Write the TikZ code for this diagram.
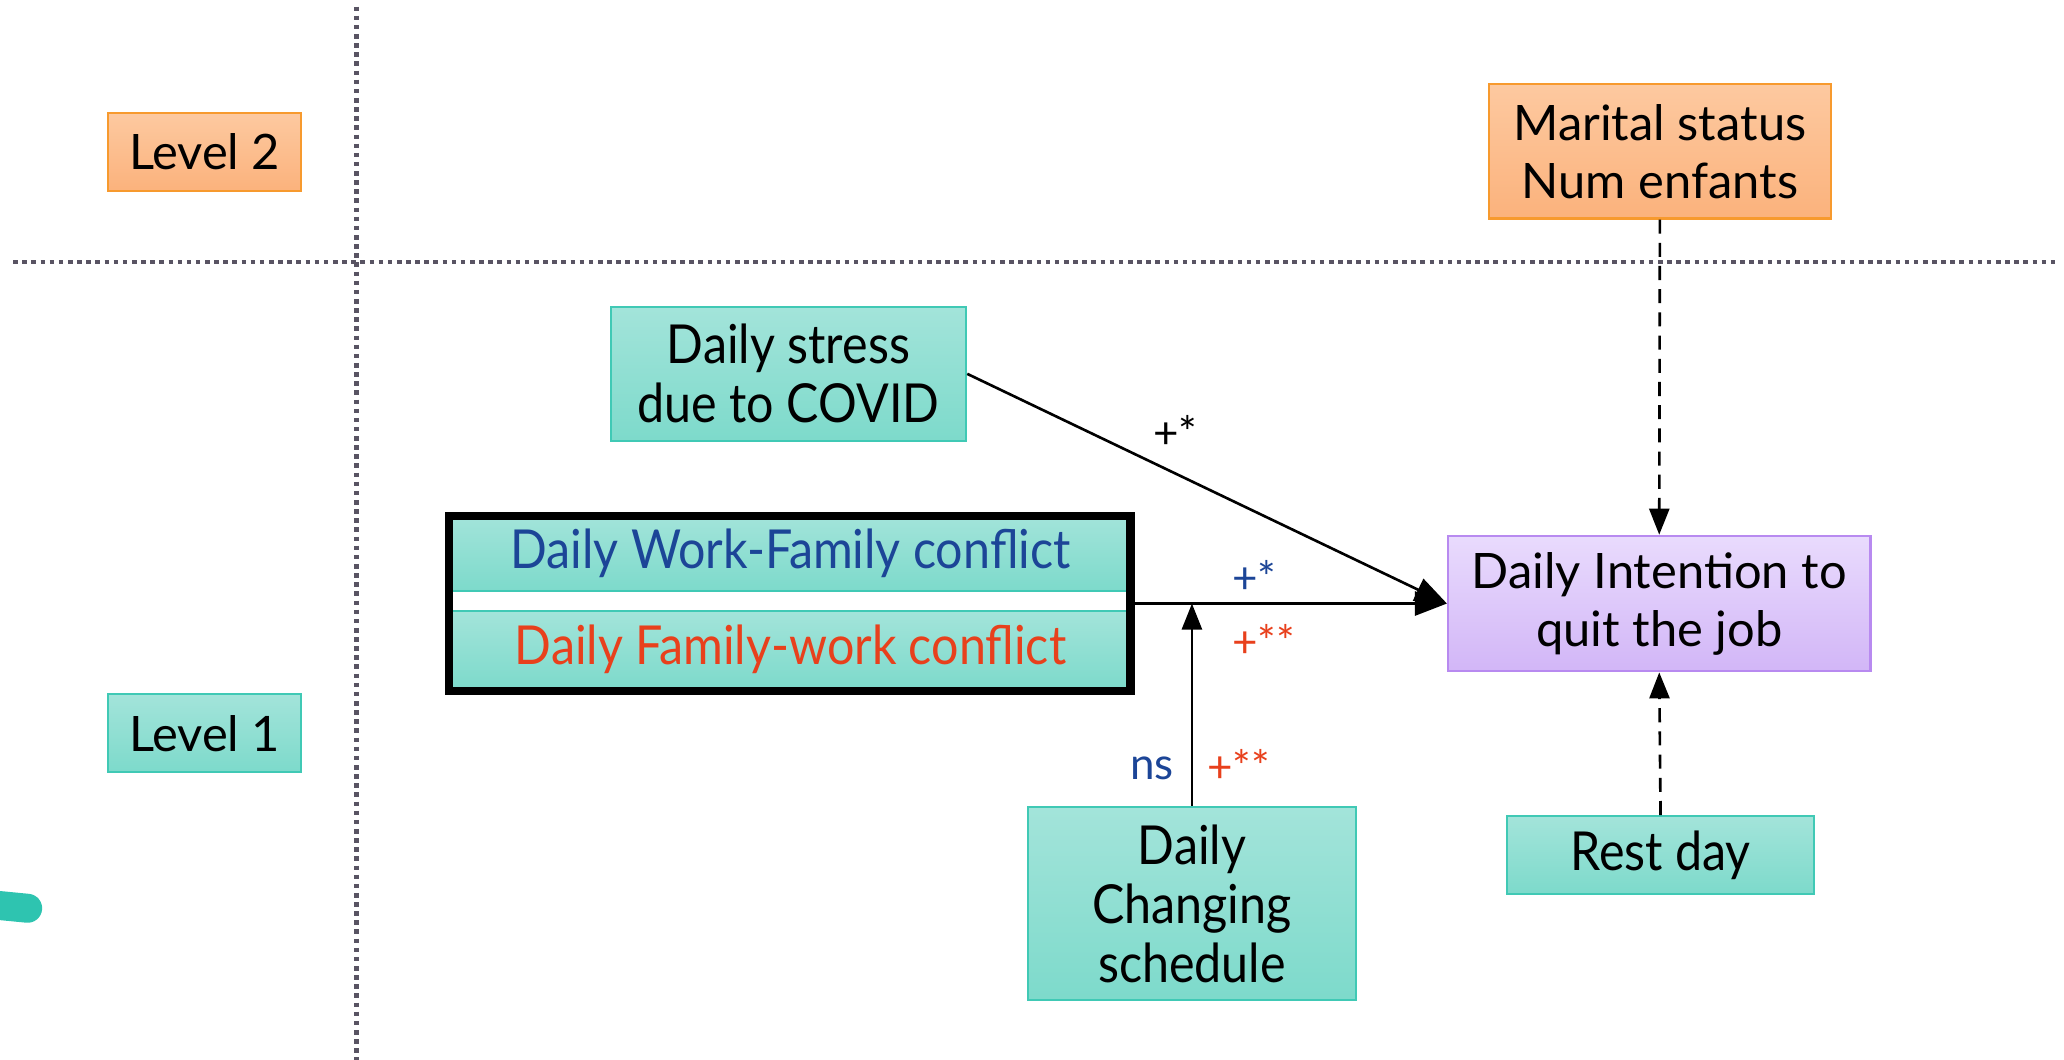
\documentclass[tikz,border=0pt]{standalone}
\usepackage{fontspec}
\setmainfont{Lato}
\newfontfamily\narrowfont[FakeStretch=0.9]{Lato}
\usetikzlibrary{positioning, arrows.meta, calc}

\definecolor{tealtop}{HTML}{A3E4DA}
\definecolor{tealbot}{HTML}{7DDACB}
\definecolor{tealline}{HTML}{40C9B5}
\definecolor{orangetop}{HTML}{FDC9A0}
\definecolor{orangebot}{HTML}{FBB27C}
\definecolor{orangeline}{HTML}{F79A2E}
\definecolor{lilactop}{HTML}{E9DBFD}
\definecolor{lilacbot}{HTML}{D2B6F7}
\definecolor{lilacline}{HTML}{B88AF0}
\definecolor{wfblue}{HTML}{1C4597}
\definecolor{fwred}{HTML}{E8401C}
\definecolor{dotgray}{HTML}{595463}
\definecolor{blobteal}{HTML}{2EC4B0}

\begin{document}
\begin{tikzpicture}[x=0.13163mm, y=-0.13163mm,
    var/.style={draw=tealline, line width=0.6pt, top color=tealtop, bottom color=tealbot,
        align=center, inner sep=0pt, font=\narrowfont\fontsize{15.3}{16.8}\selectfont},
    ctrl/.style={draw=orangeline, line width=0.6pt, top color=orangetop, bottom color=orangebot,
        align=center, inner sep=0pt, font=\fontsize{13.9}{16.5}\selectfont},
    outcome/.style={draw=lilacline, line width=0.6pt, top color=lilactop, bottom color=lilacbot,
        align=center, inner sep=0pt, font=\fontsize{13.9}{16.5}\selectfont},
    coef/.style={inner sep=0pt, font=\fontsize{12.5}{14}\selectfont},
    path/.style={-{Triangle[length=3.2mm, width=2.4mm]}, line width=0.75pt},
    modpath/.style={-{Triangle[length=2.6mm, width=2mm]}, line width=0.75pt},
    fixpath/.style={-{Triangle[length=2.6mm, width=2mm]}, line width=0.75pt, dash pattern=on 4pt off 2.6pt},
    levelline/.style={dotgray, line width=1.3pt, dash pattern=on 1.3pt off 1.3pt}]

    \useasboundingbox (0,0) rectangle (1568,805);

    \draw[levelline] (10,199) -- (1562,199);
    \draw[levelline] (271,5) -- (271,805);
    \draw[blobteal, line width=2.9mm, line cap=round] (-20,686) -- (21,690);

    \node[ctrl, minimum width=19.35mm, minimum height=7.77mm] (L2) at (155.5,115.5) {Level 2};
    \node[var, minimum width=19.35mm, minimum height=7.77mm, font=\fontsize{13.9}{16.5}\selectfont] (L1) at (155.5,557) {Level 1};

    \node[ctrl, minimum width=34.22mm, minimum height=13.43mm] (M) at (1261,115) {Marital status\\Num enfants};
    \node[var, minimum width=35.54mm, minimum height=13.43mm] (S) at (599,284) {Daily stress\\due to COVID};
    \node[var, minimum width=67.79mm, minimum height=7.63mm, text=wfblue] (WF) at (600.5,420) {Daily Work-Family conflict};
    \node[var, minimum width=67.79mm, minimum height=7.77mm, text=fwred] (FW) at (600.5,493.5) {Daily Family-work conflict};
    \node[draw, line width=2.5pt, minimum width=68.18mm, minimum height=17.51mm, inner sep=0pt, outer sep=1.25pt] (C) at (600,458.5) {};
    \node[outcome, minimum width=42.25mm, minimum height=13.56mm] (Q) at (1260.5,458.5) {Daily Intention to\\quit the job};
    \node[var, minimum width=32.78mm, minimum height=19.35mm] (CS) at (905.5,686.5) {Daily\\Changing\\schedule};
    \node[var, minimum width=30.67mm, minimum height=7.77mm] (R) at (1261.5,649.5) {Rest day};

    \draw[path] (S.east) -- (Q.west);
    \draw[path] (C.east) -- (Q.west);
    \draw[modpath] (CS.north) -- (CS.north |- C.east);
    \draw[fixpath] (M.south) -- (Q.north);
    \draw[fixpath] (R.north) -- (Q.south);

    \node[coef] (bS) at (893,328) {+*};
    \node[coef, text=wfblue] (bWF) at (953,438) {+*};
    \node[coef, text=fwred] (bFW) at (960,487) {+**};
    \node[coef, text=wfblue] (mWF) at (875,584) {ns};
    \node[coef, text=fwred] (mFW) at (941,582) {+**};
\end{tikzpicture}
\end{document}
